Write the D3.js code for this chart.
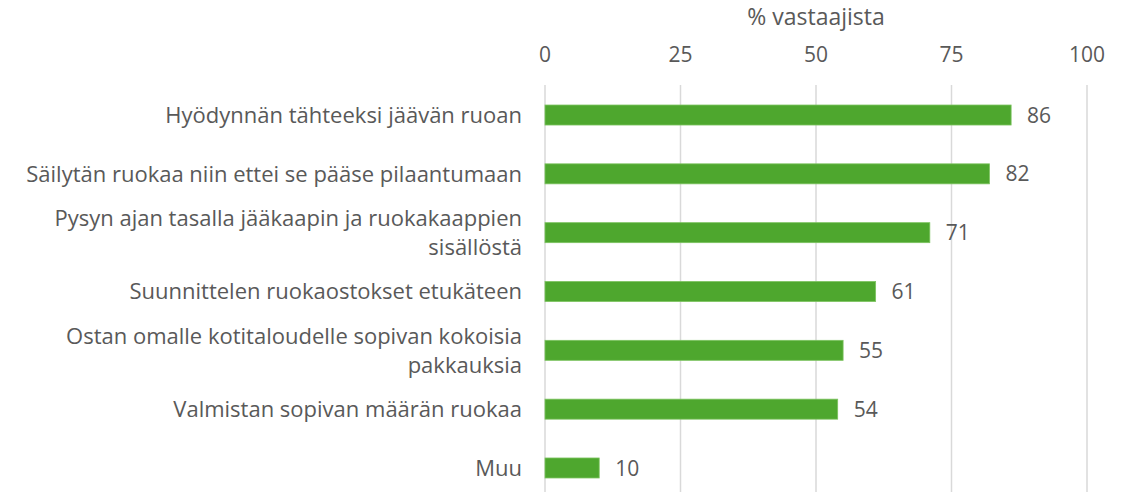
<!DOCTYPE html>
<html>
<head>
<meta charset="utf-8">
<script src="https://d3js.org/d3.v7.min.js"></script>
<style>
  body { margin: 0; background: #fff; }
  text { font-family: "Open Sans", "Liberation Sans", Arial, sans-serif; fill: #595959; }
</style>
</head>
<body>
<div id="chart"></div>
<script>

// chart data
var categories = [
  ["Hyödynnän tähteeksi jäävän ruoan"],
  ["Säilytän ruokaa niin ettei se pääse pilaantumaan"],
  ["Pysyn ajan tasalla jääkaapin ja ruokakaappien", "sisällöstä"],
  ["Suunnittelen ruokaostokset etukäteen"],
  ["Ostan omalle kotitaloudelle sopivan kokoisia", "pakkauksia"],
  ["Valmistan sopivan määrän ruokaa"],
  ["Muu"]
];
var values = [86, 82, 71, 61, 55, 54, 10];
var ticks = [0, 25, 50, 75, 100];
var axisTitle = "% vastaajista";

var width = 1130, height = 492;
var plotLeft = 545, plotRight = 1087, plotTop = 85.6, plotBottom = 497.4;

var svg = d3.select("#chart").append("svg")
    .attr("width", width)
    .attr("height", height);

var x = d3.scaleLinear().domain([0, 100]).range([plotLeft, plotRight]);
var y = d3.scaleBand().domain(d3.range(values.length)).range([plotTop, plotBottom]).padding(0);

// gridlines
svg.selectAll(".grid")
    .data(ticks)
    .enter()
    .append("line")
    .attr("x1", function(d) { return x(d); })
    .attr("x2", function(d) { return x(d); })
    .attr("y1", 85)
    .attr("y2", height)
    .attr("stroke", "#d9d9d9")
    .attr("stroke-width", 1.5);

// tick labels
svg.selectAll(".tick")
    .data(ticks)
    .enter()
    .append("text")
    .attr("x", function(d) { return x(d); })
    .attr("y", 62)
    .attr("text-anchor", "middle")
    .attr("font-size", "21px")
    .text(function(d) { return d; });

svg.append("text")
    .attr("x", x(50))
    .attr("y", 25)
    .attr("text-anchor", "middle")
    .attr("font-size", "23px")
    .text(axisTitle);

// bars
svg.selectAll(".bar")
    .data(values)
    .enter()
    .append("rect")
    .attr("x", x(0))
    .attr("y", function(d, i) { return y(i) + y.bandwidth()/2 - 10; })
    .attr("width", function(d) { return x(d) - x(0); })
    .attr("height", 20)
    .attr("fill", "#4ea72e")
    .attr("stroke", "#7cc35f")
    .attr("stroke-width", 0.8);

// value labels
svg.selectAll(".val")
    .data(values)
    .enter()
    .append("text")
    .attr("x", function(d) { return x(d) + 16; })
    .attr("y", function(d, i) { return y(i) + y.bandwidth()/2; })
    .attr("dy", "0.36em")
    .attr("font-size", "21px")
    .text(function(d) { return d; });

// category labels
var lab = svg.selectAll(".cat")
    .data(categories)
    .enter()
    .append("text")
    .attr("text-anchor", "end")
    .attr("font-size", "22px");

lab.each(function(lines, i) {
    var cy = y(i) + y.bandwidth()/2;
    var lh = 29;
    var t = d3.select(this);
    lines.forEach(function(s, k) {
        t.append("tspan")
            .attr("x", 522)
            .attr("y", cy + (k - (lines.length - 1) / 2) * lh)
            .attr("dy", "0.36em")
            .text(s);
    });
});

</script>
</body>
</html>
